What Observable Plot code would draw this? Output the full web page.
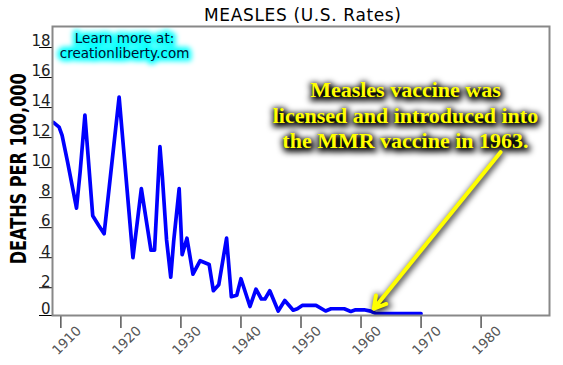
<!DOCTYPE html>
<html>
<head>
<meta charset="utf-8">
<script src="https://cdn.jsdelivr.net/npm/d3@7"></script>
<script src="https://cdn.jsdelivr.net/npm/@observablehq/plot@0.6"></script>
<style>
  html, body { margin: 0; padding: 0; background: #fff; }
  #chart svg { display: block; }
</style>
</head>
<body>
<div id="chart"></div>
<script>
// Measles death rate per 100,000 (U.S.)
const years = [1908.8, 1909.7, 1910.2, 1911.1, 1912.6, 1913.2, 1914.0, 1915.3, 1916.3, 1917.2,
  1919.7, 1922.0, 1923.4, 1925.0, 1925.6, 1926.5, 1926.9, 1927.6, 1928.3, 1928.8,
  1929.7, 1930.2, 1931.0, 1932.0, 1933.2, 1934.7, 1935.4, 1936.3, 1937.6, 1938.4,
  1939.3, 1940.0, 1941.5, 1942.5, 1943.4, 1944.0, 1944.8, 1946.2, 1947.3, 1948.7,
  1949.4, 1950.2, 1952.5, 1954.1, 1955.0, 1957.2, 1958.3, 1959.1, 1960.5, 1961.6,
  1962.5, 1970.0];
const rates = [13.0, 12.7, 12.15, 10.4, 7.3, 9.7, 13.5, 6.8, 6.15, 5.6,
  14.7, 4.0, 8.6, 4.5, 4.5, 11.4, 9.4, 5.2, 2.7, 5.15,
  8.6, 4.2, 5.3, 2.9, 3.8, 3.55, 1.8, 2.2, 5.3, 1.4,
  1.5, 2.6, 0.75, 1.9, 1.25, 1.25, 1.8, 0.45, 1.15, 0.5,
  0.6, 0.82, 0.82, 0.45, 0.6, 0.6, 0.42, 0.53, 0.53, 0.44,
  0.27, 0.27];

const xTicks = [1910, 1920, 1930, 1940, 1950, 1960, 1970, 1980];
const yTicks = [0, 2, 4, 6, 8, 10, 12, 14, 16, 18];

const titleText = "MEASLES (U.S. Rates)";
const yLabelText = "DEATHS PER 100,000";
const promoLines = ["Learn more at:", "creationliberty.com"];
const promoAt = [1920.6, 18.1];
const noteLines = ["Measles vaccine was", "licensed and introduced into", "the MMR vaccine in 1963."];
const noteAt = [1967.4, 13.54];
const arrowFrom = [1983.24, 11.03];
const arrowTo = [1962.13, 0.6];

const data = years.map((y, i) => ({year: y, rate: rates[i]}));
const promo = [{x: promoAt[0], y: promoAt[1], t: promoLines.join("\n")}];
const note = [{x: noteAt[0], y: noteAt[1], t: noteLines.join("\n")}];
const arrow = [{x1: arrowFrom[0], y1: arrowFrom[1], x2: arrowTo[0], y2: arrowTo[1]}];

const chart = Plot.plot({
  width: 563,
  height: 365,
  marginLeft: 52,
  marginRight: 14,
  marginTop: 26,
  marginBottom: 50,
  style: {background: "white", fontFamily: "DejaVu Sans"},
  x: {domain: [1908.6, 1991.4]},
  y: {domain: [0.15, 19.4], clamp: true},
  marks: [
    Plot.axisY({ticks: yTicks, tickSize: 13, tickFormat: () => "", stroke: "black", label: null}),
    Plot.axisX({ticks: xTicks, tickSize: 13, tickFormat: () => "", stroke: "black", label: null}),
    Plot.text(yTicks, {y: d => d, frameAnchor: "left", text: d => String(d), textAnchor: "end",
      lineAnchor: "middle", dx: -2, dy: -6, fontSize: 15, fill: "#222"}),
    Plot.text(xTicks, {x: d => d, frameAnchor: "bottom", text: d => String(d), rotate: -45,
      textAnchor: "end", lineAnchor: "middle", dx: 18, dy: 13, fontSize: 13.5, fill: "#555"}),
    Plot.text([titleText], {frameAnchor: "top", text: d => d, textAnchor: "middle", lineAnchor: "middle",
      dx: 1.5, dy: -10.7, fontSize: 17, fill: "black"}),
    Plot.text([yLabelText], {frameAnchor: "left", text: d => d, rotate: -90, textAnchor: "middle",
      lineAnchor: "middle", dx: -33.7, dy: -2.2, fontSize: 21, fontWeight: "bold", fill: "black"}),
    // cyan glow behind promo text
    Plot.text(promo, {x: "x", y: "y", text: "t", fontSize: 13.5, lineHeight: 1.11,
      fill: "#00fffe", stroke: "#00fffe", strokeWidth: 7, strokeOpacity: 0.85}),
    Plot.text(promo, {x: "x", y: "y", text: "t", fontSize: 13.5, lineHeight: 1.11, fill: "#001030"}),
    Plot.line(data, {x: "year", y: "rate", stroke: "#0000ff", strokeWidth: 3.7}),
    // annotation shadow
    Plot.arrow(arrow, {x1: "x1", y1: "y1", x2: "x2", y2: "y2", stroke: "#010101", strokeWidth: 5,
      headLength: 4.5, dx: 1, dy: 2, strokeOpacity: 0.9}),
    Plot.text(note, {x: "x", y: "y", text: "t", fontSize: 22, lineHeight: 1.16, fontWeight: "bold",
      fontFamily: "Liberation Serif", fill: "#010101", stroke: "#010101", strokeWidth: 4, dx: 1, dy: 2}),
    Plot.arrow(arrow, {x1: "x1", y1: "y1", x2: "x2", y2: "y2", stroke: "#ffff00", strokeWidth: 4,
      headLength: 5}),
    Plot.text(note, {x: "x", y: "y", text: "t", fontSize: 22, lineHeight: 1.16, fontWeight: "bold",
      fontFamily: "Liberation Serif", fill: "#ffff00"}),
    Plot.frame({stroke: "#888", strokeWidth: 2})
  ]
});

const sel = d3.select(chart);
sel.selectAll('[fill="#010101"], [stroke="#010101"]').style("filter", "blur(3px)");
sel.selectAll('[stroke="#00fffe"]').style("filter", "blur(2.5px)");
sel.selectAll("text").each(function() {
  const t = this.textContent;
  if (t === titleText) { this.setAttribute("textLength", 197); this.setAttribute("lengthAdjust", "spacing"); }
  if (t === yLabelText) { this.setAttribute("textLength", 191); this.setAttribute("lengthAdjust", "spacingAndGlyphs"); }
});
document.getElementById("chart").appendChild(chart);
</script>
</body>
</html>
